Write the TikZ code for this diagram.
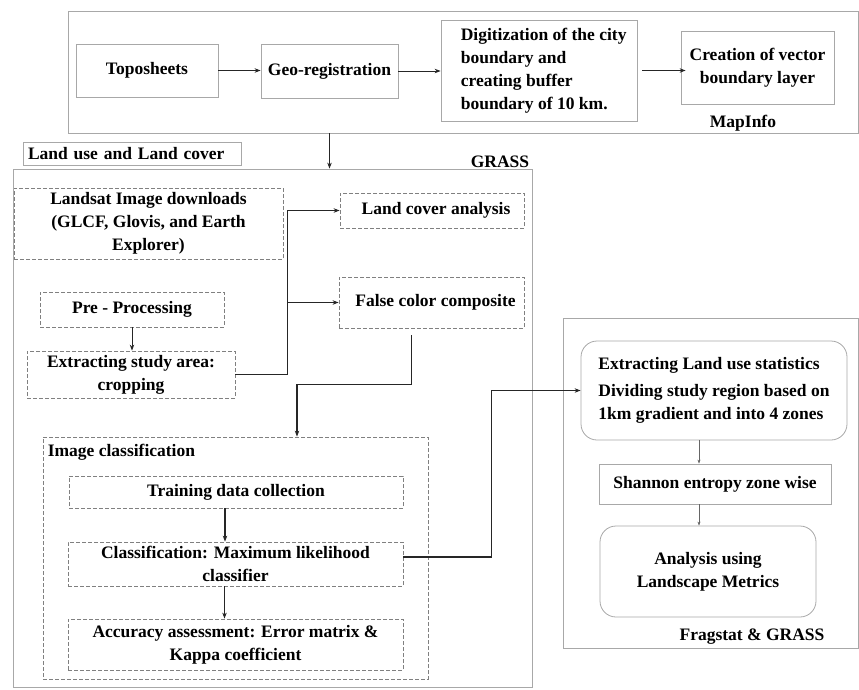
\documentclass[tikz,border=0pt]{standalone}
\usepackage{fontspec}
\setmainfont{Liberation Serif}
\usetikzlibrary{arrows.meta}

\definecolor{boxgray}{HTML}{A8A8A8}
\definecolor{dashgray}{HTML}{808080}

\begin{document}
\begin{tikzpicture}[x=1pt,y=-1pt,
  every node/.style={font=\fontsize{17.5}{23}\selectfont\bfseries, inner sep=0pt},
  sz/.style 2 args={minimum width=#1pt, minimum height=#2pt},
  box/.style={draw=boxgray, line width=0.8pt},
  dbox/.style={draw=dashgray, line width=0.8pt, dash pattern=on 4pt off 2pt},
  rbox/.style={draw=boxgray, line width=0.8pt, rounded corners=16pt},
  link/.style={-{Stealth[length=6pt,width=4.5pt]}, line width=1.3pt, black!85},
  thin link/.style={-{Stealth[length=4pt,width=3pt]}, line width=0.6pt, black!60}]

  % 页面范围
  \useasboundingbox (0,0) rectangle (859,689);

  % 上方: MapInfo 部分
  \node[box, sz={790}{122}] (top) at (463,72) {};
  \node[box, sz={142}{53}] (topo) at (147,70.5) {Toposheets};
  \node[box, sz={137}{54}] (geo) at (329.5,71) {Geo-registration};
  \node[box, sz={196}{101}] (digit) at (539,70.5) {};
  \node[anchor=west, align=left] (digittxt) at ([xshift=20pt]digit.west)
    {Digitization of the city\\boundary and\\creating buffer\\boundary of 10 km.};
  \node[box, sz={153}{73}, align=center] (crea) at (757.5,67.5)
    {Creation of vector\\boundary layer};
  \node (mapinfo) at (743,123) {MapInfo};

  % 中间: GRASS 部分
  \node[box, sz={218}{23}, text width=208pt, inner xsep=5pt, align=left] (lulc) at (132,153.5)
    {Land use and Land cover};
  \node (grasslab) at (500,162) {GRASS};
  \node[box, sz={519}{518}] (grass) at (272.5,428) {};
  \node[dbox, sz={269}{71}, align=center] (landsat) at (148.5,223.5)
    {Landsat Image downloads\\(GLCF, Glovis, and Earth\\Explorer)};
  \node[dbox, sz={184}{35}] (pre) at (132,309.5) {Pre - Processing};
  \node[dbox, sz={208}{47}, align=center] (extr) at (131,374.5)
    {Extracting study area:\\cropping};
  \node[dbox, sz={184}{35}] (lca) at (432,210.5) {\hspace{8pt}Land cover analysis};
  \node[dbox, sz={185}{51}] (fcc) at (431.5,302.5) {\hspace{8pt}False color composite};

  % 图像分类
  \node[dbox, sz={385}{242}] (imgc) at (235.5,558) {};
  \node[anchor=north west] (imgclab) at ([xshift=5pt,yshift=-7pt]imgc.north west)
    {Image classification};
  \node[dbox, sz={334}{32}] (train) at (236,492) {Training data collection};
  \node[dbox, sz={335}{44}, align=center] (class) at (235.5,564)
    {Classification: Maximum likelihood\\classifier};
  \node[dbox, sz={335}{51}, align=center] (acc) at (235.5,644.5)
    {Accuracy assessment: Error matrix \&\\Kappa coefficient};

  % 右侧: Fragstat 部分
  \node[box, sz={295}{330}] (frag) at (710.5,483) {};
  \node[rbox, sz={266}{99}, align=left] (ext) at (714,390.5)
    {Extracting Land use statistics\\[4pt]Dividing study region based on\\1km gradient and into 4 zones};
  \node[box, sz={232}{40}] (shan) at (715,484) {Shannon entropy zone wise};
  \node[rbox, sz={216}{91}, align=center] (ana) at (708,571.5)
    {Analysis using\\Landscape Metrics};
  \node (fraglab) at (752,637) {Fragstat \& GRASS};

  % 连线
  \draw[link, line width=1pt] (topo.east) -- (topo.east -| geo.west);
  \draw[link, line width=1pt] (geo.east) -- (geo.east -| digit.west);
  \draw[link, line width=1pt] ([xshift=5pt]digit.east) -- ([xshift=5pt]digit.east -| crea.west);
  \draw[link, line width=1pt] (top.south -| geo) -- (grass.north -| geo);
  \draw[link, line width=1pt] (pre.south) -- (pre.south |- extr.north);
  \draw[link] (extr.east) -- ++(52,0) coordinate (split) |- (lca.west);
  \draw[link] (split |- fcc.west) -- (fcc.west);
  \draw[link] ([xshift=-20pt,yshift=-7pt]fcc.south) -- ++(0,49) -| ([xshift=61.5pt]imgc.north);
  \draw[link] ([xshift=-11pt]train.south) -- ([xshift=-11pt]train.south |- class.north);
  \draw[link] ([xshift=-11pt]class.south) -- ([xshift=-11pt]class.south |- acc.north);
  \draw[link] ([yshift=7pt]class.east) -- ++(88,0) |- (ext.west);
  \draw[thin link] ([xshift=-15pt]ext.south) -- ([xshift=-15pt]ext.south |- shan.north);
  \draw[thin link] ([xshift=-16pt]shan.south) -- ([xshift=-16pt]shan.south |- ana.north);
\end{tikzpicture}
\end{document}
